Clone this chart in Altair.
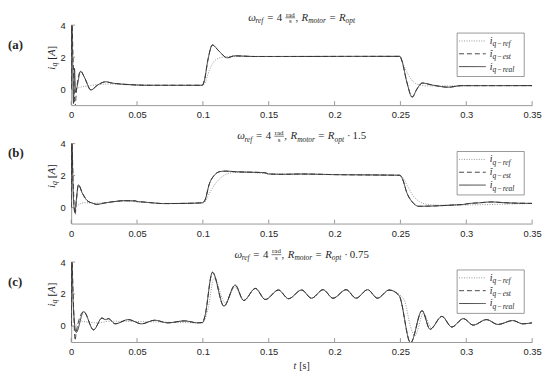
import altair as alt
import pandas as pd

# ---------------- data ----------------
XTICKS = [0, 0.05, 0.1, 0.15, 0.2, 0.25, 0.3, 0.35]
YTICKS = [0, 2, 4]

# panel (a)  R_motor = R_opt
ta_real = [0, 0.0005, 0.0018, 0.0025, 0.0033, 0.0042, 0.0072, 0.0100, 0.0150, 0.0200, 0.0262, 0.0310,
           0.0350, 0.0450, 0.0600, 0.0995, 0.1010, 0.1040, 0.1072, 0.1120, 0.1185, 0.1240, 0.1400, 0.2495,
           0.2510, 0.2550, 0.2589, 0.2625, 0.2665, 0.2740, 0.2865, 0.2965, 0.3500]
va_real = [0, 4.2, -0.9, 1.3, -0.2, 0.05, 1.12, 0.75, -0.05, 0.25, 0.46, 0.38,
           0.34, 0.28, 0.24, 0.24, 0.5, 1.9, 2.76, 2.4, 1.96, 2.08, 2.04, 2.05,
           1.8, 0.4, -0.5, 0.0, 0.38, 0.26, 0.12, 0.22, 0.22]
ta_est_head = [0, 0.0005, 0.0015, 0.0030, 0.0038]
va_est_head = [0, 4.2, 1.8, -1.1, -0.3]
ta_ref = [0, 0.003, 0.006, 0.012, 0.02, 0.03, 0.05, 0.0998, 0.101, 0.105, 0.11, 0.115, 0.12,
          0.2498, 0.252, 0.256, 0.26, 0.265, 0.27, 0.35]
va_ref = [0, 0, 0.1, 0.2, 0.28, 0.32, 0.25, 0.24, 0.3, 1.2, 1.85, 2.0, 2.05,
          2.05, 1.6, 0.9, 0.45, 0.25, 0.2, 0.22]

# panel (b)  R_motor = R_opt * 1.5
tb_real = [0, 0.0005, 0.0015, 0.0028, 0.0038, 0.0055, 0.0085, 0.0120, 0.0160, 0.0195, 0.0250, 0.0330,
           0.0400, 0.0485, 0.0505, 0.0530, 0.0600, 0.0700, 0.0850, 0.0995, 0.1015, 0.1050, 0.1090,
           0.1130, 0.1170, 0.1250, 0.1470, 0.1500, 0.1600, 0.1750, 0.2000, 0.2400, 0.2495, 0.2515,
           0.2550, 0.2590, 0.2640, 0.2750, 0.2900, 0.2980, 0.3020, 0.3100, 0.3190, 0.3300, 0.3500]
vb_real = [0, 4.2, 1.0, -0.3, 0.4, 1.42, 0.9, 0.45, 0.28, 0.2, 0.28, 0.38,
           0.43, 0.42, 0.37, 0.36, 0.31, 0.25, 0.26, 0.3, 0.45, 1.5, 2.05,
           2.25, 2.28, 2.24, 2.18, 2.1, 2.08, 2.1, 2.06, 2.03, 2.02, 1.8,
           0.9, 0.35, 0.08, 0.1, 0.16, 0.2, 0.25, 0.3, 0.35, 0.3, 0.26]
tb_est_head = [0, 0.0005, 0.0015, 0.0030, 0.0040]
vb_est_head = [0, 4.2, 1.6, -0.45, 0.45]
tb_ref = [0, 0.003, 0.006, 0.010, 0.020, 0.040, 0.070, 0.0998, 0.101, 0.105, 0.110, 0.115, 0.120,
          0.130, 0.150, 0.2498, 0.252, 0.256, 0.260, 0.265, 0.270, 0.280, 0.350]
vb_ref = [0, 0, 0.2, 0.3, 0.28, 0.4, 0.26, 0.3, 0.32, 0.9, 1.55, 1.95, 2.15,
          2.22, 2.12, 2.02, 1.85, 1.25, 0.7, 0.35, 0.2, 0.15, 0.26]

# panel (c)  R_motor = R_opt * 0.75
tc_real = [0, 0.0005, 0.0015, 0.0038, 0.0095, 0.0170, 0.0234, 0.0260, 0.0283, 0.0334, 0.0434, 0.0534,
           0.0634, 0.0734, 0.0860, 0.0960, 0.0998, 0.1015, 0.1073, 0.1160, 0.1245, 0.1310, 0.1399,
           0.1474, 0.1574, 0.1650, 0.1750, 0.1825, 0.1913, 0.1988, 0.2088, 0.2163, 0.2251, 0.2326,
           0.2414, 0.2490, 0.2577, 0.2664, 0.2725, 0.2815, 0.2890, 0.2978, 0.3053, 0.3153, 0.3240,
           0.3353, 0.3429, 0.3500]
vc_real = [0, 4.2, 1.5, -0.4, 0.9, -0.24, 0.5, 0.4, 0.46, 0.14, 0.4, 0.14,
           0.36, 0.2, 0.32, 0.2, 0.22, 0.6, 3.36, 1.24, 2.56, 1.6, 2.35,
           1.66, 2.25, 1.71, 2.25, 1.74, 2.27, 1.74, 2.27, 1.74, 2.27, 1.74,
           2.25, 1.9, -1.05, 0.96, -0.2, 0.6, -0.06, 0.46, 0.06, 0.4, 0.1,
           0.34, 0.14, 0.2]
tc_est_head = [0, 0.0005, 0.0015, 0.0030]
vc_est_head = [0, 4.2, 2.0, -0.9]
tc_ref = [0, 0.003, 0.007, 0.012, 0.02, 0.03, 0.05, 0.0998, 0.101, 0.104, 0.1085, 0.117, 0.1245,
          0.1310, 0.1399, 0.1474, 0.1574, 0.1650, 0.1750, 0.1825, 0.1913, 0.1988, 0.2088, 0.2163,
          0.2251, 0.2326, 0.2414, 0.2495, 0.2535, 0.2575, 0.2610, 0.2675, 0.2735,
          0.2815, 0.2890, 0.2978, 0.3053, 0.3153, 0.3240, 0.3353, 0.3429, 0.3500]
vc_ref = [0, 0, 0.3, 0.25, 0.2, 0.3, 0.28, 0.2, 0.3, 1.1, 3.0, 1.45, 2.45,
          1.6, 2.35, 1.66, 2.25, 1.71, 2.25, 1.74, 2.27, 1.74, 2.27, 1.74,
          2.27, 1.74, 2.25, 1.95, 1.5, 0.0, -0.6, 0.8, -0.1,
          0.6, -0.06, 0.46, 0.06, 0.4, 0.1, 0.34, 0.14, 0.2]

# ---------------- layout / style ----------------
W, H = 467, 81
AX = "#808080"
INK = "#262626"
SERIF = "Liberation Serif"

IT = dict(zip("abcdefghijklmnopqrstuvwxyz",
              [500, 500, 444, 500, 444, 278, 500, 500, 278, 278, 444, 278, 722, 500, 500, 500, 500,
               389, 389, 278, 500, 444, 667, 444, 444, 389]))
IT.update({"R": 611, "A": 611, "ω": 667, "î": 278, "−": 600, "(": 333, ")": 333})
UP = {c: 500 for c in "0123456789"}
UP.update({"=": 564, ",": 250, ".": 250, "·": 250, "[": 333, "]": 333, "r": 333,
           "a": 444, "d": 500, "s": 389, "−": 564, "(": 333, ")": 333})


def tw(s, fs, italic):
    tab = IT if italic else UP
    return sum(tab.get(c, 500) for c in s) * fs / 1000.0


def build(segs, cx, cy, rot=False, anchor="center"):
    ws = []
    for g in segs:
        if g[0] == "FRAC":
            ws.append(max(tw(g[1], g[3], False), tw(g[2], g[3], False)) + 1.5)
        elif g[0] == "GAP":
            ws.append(g[1])
        else:
            ws.append(tw(g[0], g[2], g[1] == "i"))
    tot = sum(ws)
    p = -tot / 2 if anchor == "center" else 0.0
    ang = 270 if rot else 0

    def pt(along, off):
        if rot:
            return cx + off, cy - along
        return cx + along, cy + off

    rows, bars = [], []
    for g, w in zip(segs, ws):
        if g[0] == "FRAC":
            _, num, den, fs = g
            x, y = pt(p + (w - tw(num, fs, False)) / 2, -4.2)
            rows.append(dict(s=num, x=x, y=y, fs=fs, st="n", a=ang))
            x, y = pt(p + (w - tw(den, fs, False)) / 2, 2.6)
            rows.append(dict(s=den, x=x, y=y, fs=fs, st="n", a=ang))
            x1, y1 = pt(p + 0.3, -3.0)
            x2, y2 = pt(p + w - 0.3, -3.0)
            bars.append(dict(x=x1, y=y1, x2=x2, y2=y2))
        elif g[0] == "GAP":
            pass
        else:
            s, st, fs, off = g
            x, y = pt(p, off)
            rows.append(dict(s=s, x=x, y=y, fs=fs, st=st, a=ang))
        p += w
    if not rot:
        # place with a 'top' baseline: vega draws the baseline round(0.79*fs) below y
        for r in rows:
            r["y"] = r["y"] - round(0.79 * r["fs"])
            r["st"] = r["st"] + "t"
    return rows, bars


def title_segs(extra):
    M, S, D = 11, 7.5, 2.7
    segs = [("ω", "i", M, 0), ("ref", "i", S, D), ("GAP", 3.5), ("=", "n", M, 0), ("GAP", 3.5),
            ("4", "n", M, 0), ("GAP", 3), ("FRAC", "rad", "s", 7), (",", "n", M, 0), ("GAP", 3.5),
            ("R", "i", M, 0), ("motor", "i", S, D), ("GAP", 3.5), ("=", "n", M, 0), ("GAP", 3.5),
            ("R", "i", M, 0), ("opt", "i", S, D)]
    if extra:
        segs += [("GAP", 3), ("·", "n", M, 0), ("GAP", 3), (extra, "n", M, 0)]
    return segs


def leg_segs(head, sub):
    return [(head, "i", 10, 0), ("q", "i", 7.5, 2.5), ("GAP", 1.2), ("−", "n", 7.5, 2.5),
            ("GAP", 1.2), (sub, "i", 7.5, 2.5)]


xs = alt.Scale(domain=[0, 0.35], nice=False, zero=False)
ys = alt.Scale(domain=[-1, 4], nice=False, zero=False)
xaxis = alt.Axis(values=XTICKS, format="~g", title=None, grid=False, ticks=False, domainColor=AX,
                 domainWidth=0.8, labelFont="Liberation Sans", labelFontSize=9.5, labelColor=INK,
                 labelPadding=5, labelFlush=False, labelOverlap=False)
yaxis = alt.Axis(values=YTICKS, title=None, grid=False, ticks=False, domainColor=AX, domainWidth=0.8,
                 labelFont="Liberation Sans", labelFontSize=9.5, labelColor=INK, labelPadding=6,
                 labelFlush=False, labelOverlap=False)

LEG_X0, LEG_X1 = 391, 459
LEG_ROWS = [16, 29, 42]
TEXT_STYLES = [("it", "italic", "normal", "top"), ("nt", "normal", "normal", "top"),
               ("bt", "normal", "bold", "top"), ("i", "italic", "normal", "alphabetic"),
               ("n", "normal", "normal", "alphabetic")]


def panel(t_real, v_real, t_eh, v_eh, t_ref, v_ref, extra, label, label_y, xtitle):
    cut = t_eh[-1]
    t_est = list(t_eh) + [t for t in t_real if t > cut]
    v_est = list(v_eh) + [v for t, v in zip(t_real, v_real) if t > cut]
    df = pd.concat([
        pd.DataFrame({"t": t_ref, "v": v_ref, "s": "ref"}),
        pd.DataFrame({"t": t_est, "v": v_est, "s": "est"}),
        pd.DataFrame({"t": t_real, "v": v_real, "s": "real"}),
    ], ignore_index=True)
    base = alt.Chart(df)

    def line(s, color, dash, width):
        return base.transform_filter(alt.datum.s == s).mark_line(
            clip=True, interpolate="monotone", color=color, strokeDash=dash, strokeWidth=width
        ).encode(x=alt.X("t:Q", scale=xs, axis=xaxis), y=alt.Y("v:Q", scale=ys, axis=yaxis))

    layers = [
        line("ref", "#8a8a8a", [1, 1.5], 0.9),
        line("est", "#333333", [5, 3], 0.9),
        line("real", "#333333", [1, 0], 1.0),
    ]
    xt = alt.Chart(pd.DataFrame({"k": XTICKS})).mark_rule(color=AX, strokeWidth=0.8).encode(
        x=alt.X("k:Q", scale=xs, axis=xaxis), y=alt.value(H), y2=alt.value(H - 4))
    yt = alt.Chart(pd.DataFrame({"k": YTICKS})).mark_rule(color=AX, strokeWidth=0.8).encode(
        y=alt.Y("k:Q", scale=ys, axis=yaxis), x=alt.value(0), x2=alt.value(4))
    layers += [xt, yt]

    rows, bars = [], []
    r, b = build(title_segs(extra), W / 2, -4.5)
    rows += r; bars += b
    r, b = build([("i", "i", 11, 0), ("q", "i", 8, 2.3), ("GAP", 3), ("[", "n", 11, 0),
                  ("A", "i", 11, 0), ("]", "n", 11, 0)], -16.5, 33, rot=True)
    rows += r
    r, b = build([(label, "b", 13, 0)], -64, label_y, anchor="left")
    rows += r
    for ly, (hd, sub) in zip(LEG_ROWS, [("i", "ref"), ("î", "est"), ("i", "real")]):
        r, b = build(leg_segs(hd, sub), 424, ly + 3, anchor="left")
        rows += r
    if xtitle:
        r, b = build([("t", "i", 10, 0), ("GAP", 3), ("[s]", "n", 10, 0)], W / 2, H + 27)
        rows += r

    box = alt.Chart(pd.DataFrame([dict(x=LEG_X0, x2=LEG_X1, y=8, y2=52)])).mark_rect(
        fill="white", stroke="#6e6e6e", strokeWidth=0.7).encode(
        x=alt.X("x:Q", scale=None), x2="x2:Q", y=alt.Y("y:Q", scale=None), y2="y2:Q")
    layers.append(box)
    for ly, (color, dash) in zip(LEG_ROWS, [("#8a8a8a", [1, 1.5]), ("#333333", [5, 3]), ("#333333", [1, 0])]):
        layers.append(alt.Chart(pd.DataFrame([dict(x=393, x2=420, y=ly)])).mark_rule(
            color=color, strokeDash=dash, strokeWidth=0.9).encode(
            x=alt.X("x:Q", scale=None), x2="x2:Q", y=alt.Y("y:Q", scale=None)))

    tdf = pd.DataFrame(rows)
    for st, style, weight, bl in TEXT_STYLES:
        layers.append(alt.Chart(tdf).transform_filter(alt.datum.st == st).mark_text(
            align="left", baseline=bl, font=SERIF, fontStyle=style, fontWeight=weight,
            color=INK).encode(
            x=alt.X("x:Q", scale=None), y=alt.Y("y:Q", scale=None), text="s:N",
            size=alt.Size("fs:Q", scale=None), angle=alt.Angle("a:Q", scale=None)))
    if bars:
        layers.append(alt.Chart(pd.DataFrame(bars)).mark_rule(color=INK, strokeWidth=0.6).encode(
            x=alt.X("x:Q", scale=None), x2="x2:Q", y=alt.Y("y:Q", scale=None)))

    return alt.layer(*layers).properties(width=W, height=H)


pa = panel(ta_real, va_real, ta_est_head, va_est_head, ta_ref, va_ref, None, "(a)", 24, False)
pb = panel(tb_real, vb_real, tb_est_head, vb_est_head, tb_ref, vb_ref, "1.5", "(b)", 14, False)
pc = panel(tc_real, vc_real, tc_est_head, vc_est_head, tc_ref, vc_ref, "0.75", "(c)", 24.5, True)

chart = alt.vconcat(pa, pb, pc, spacing=39, bounds="flush").configure_view(stroke=None).properties(
    padding=0, background="white")

chart.save("out.html", embed_options={"renderer": "svg", "actions": False})
